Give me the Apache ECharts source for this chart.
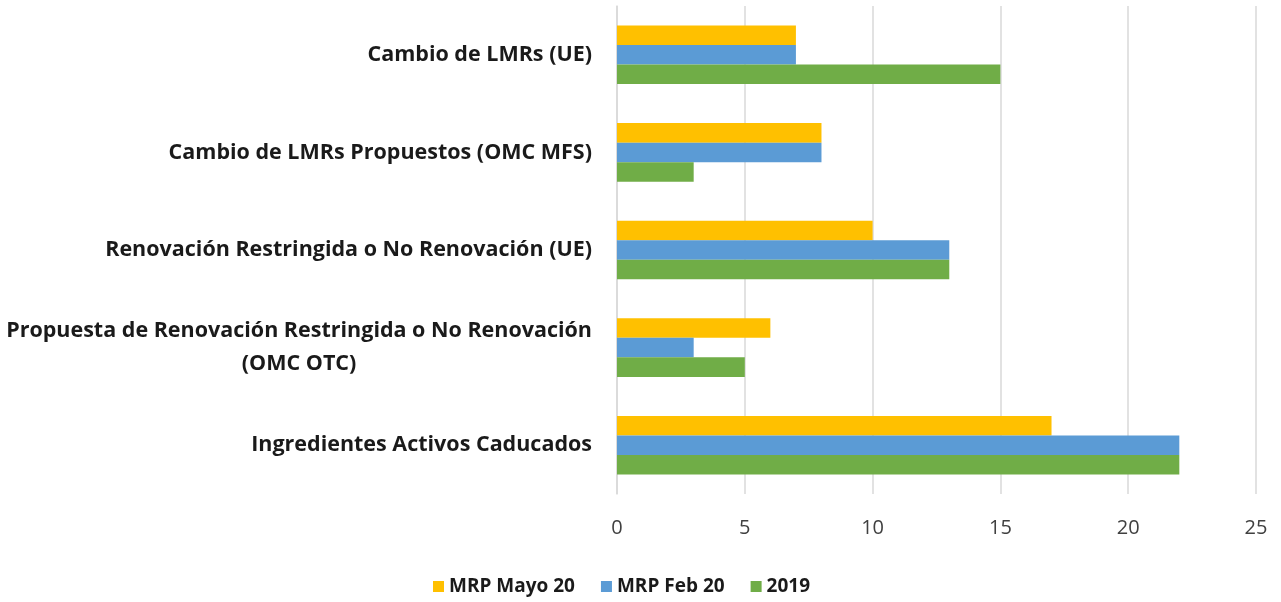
<!DOCTYPE html>
<html>
<head>
<meta charset="utf-8">
<script src="https://cdn.jsdelivr.net/npm/echarts@6/dist/echarts.min.js"></script>
<style>
  html, body { margin: 0; padding: 0; background: #fff; }
  #chartmain { width: 1281px; height: 602px; }
</style>
</head>
<body>
<div id="chartmain"></div>
<script>
// categories listed bottom to top (category axis starts at the bottom)
var categories = [
  'Ingredientes Activos Caducados',
  'Propuesta de Renovación Restringida o No Renovación\n(OMC OTC)',
  'Renovación Restringida o No Renovación (UE)',
  'Cambio de LMRs Propuestos (OMC MFS)',
  'Cambio de LMRs (UE)'
];
var seriesNames = ['MRP Mayo 20', 'MRP Feb 20', '2019'];
var mayo20 = [17, 6, 10, 8, 7];
var feb20 = [22, 3, 13, 8, 7];
var y2019 = [22, 5, 13, 3, 15];
var xTicks = [0, 5, 10, 15, 20, 25];

var colors = ['#FFC000', '#5B9BD5', '#70AD47'];
var labelFont = 'Open Sans';
var catFontSize = 21.5;

var option = {
  animation: false,
  color: colors,
  grid: {
    left: 617,
    right: 25,
    top: 6,
    bottom: 108
  },
  legend: {
    data: seriesNames,
    left: 428,
    top: 572,
    itemWidth: 11,
    itemHeight: 11,
    itemGap: 26,
    icon: 'rect',
    textStyle: {
      fontFamily: labelFont,
      fontWeight: 'bold',
      fontSize: 19,
      color: '#1a1a1a'
    }
  },
  xAxis: {
    type: 'value',
    min: xTicks[0],
    max: xTicks[xTicks.length - 1],
    interval: 5,
    axisLine: { show: false },
    axisTick: { show: false },
    splitLine: { lineStyle: { color: '#d9d9d9', width: 1.5 } },
    axisLabel: {
      margin: 24,
      fontFamily: labelFont,
      fontSize: 20,
      color: '#404040'
    }
  },
  yAxis: {
    type: 'category',
    data: categories,
    axisLine: { show: true, lineStyle: { color: '#d9d9d9', width: 1.5 } },
    axisTick: { show: false },
    axisLabel: {
      margin: 25,
      fontFamily: labelFont,
      fontWeight: 'bold',
      fontSize: catFontSize,
      color: '#1a1a1a',
      lineHeight: 33,
      formatter: function (v) {
        var parts = v.split('\n');
        if (parts.length > 1) {
          return '{a|' + parts[0] + '}\n{b|' + parts[1] + '}';
        }
        return v;
      },
      rich: {
        a: { fontFamily: labelFont, fontWeight: 'bold', fontSize: catFontSize, color: '#1a1a1a', lineHeight: 33 },
        b: { fontFamily: labelFont, fontWeight: 'bold', fontSize: catFontSize, color: '#1a1a1a', lineHeight: 33, align: 'center' }
      }
    }
  },
  series: [
    { name: seriesNames[0], type: 'bar', data: mayo20, barGap: '0%', barCategoryGap: '40%' },
    { name: seriesNames[1], type: 'bar', data: feb20, barGap: '0%', barCategoryGap: '40%' },
    { name: seriesNames[2], type: 'bar', data: y2019, barGap: '0%', barCategoryGap: '40%' }
  ]
};

var myChart = echarts.init(document.getElementById('chartmain'));
myChart.setOption(option);
</script>
</body>
</html>
